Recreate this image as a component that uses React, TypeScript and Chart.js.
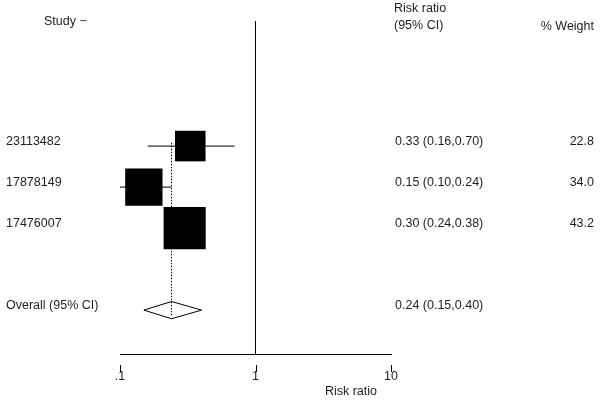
import React, { useEffect, useRef } from 'react';
import { Chart, registerables } from 'chart.js';
Chart.register(...registerables);

// ---- data ----
const studies = ['23113482', '17878149', '17476007'];
const rr = [0.33, 0.15, 0.30];
const ciLow = [0.16, 0.10, 0.24];
const ciHigh = [0.70, 0.24, 0.38];
const weights = [22.8, 34.0, 43.2];
const ciLabels = ['0.33 (0.16,0.70)', '0.15 (0.10,0.24)', '0.30 (0.24,0.38)'];
const weightLabels = ['22.8', '34.0', '43.2'];
const overallName = 'Overall (95% CI)';
const overallEst = 0.24;
const overallLow = 0.15;
const overallHigh = 0.40;
const overallText = '0.24 (0.15,0.40)';
const xTicks = [0.1, 1, 10];
const xTickLabels = ['.1', '1', '10'];

// row positions (y units)
const studyRows = [0, 1, 2];
const overallRow = 4;
const Y_MIN = -3.05;
const Y_MAX = 5.07;

const FONT = "'Liberation Sans', Arial, sans-serif";
const TXT = '#1e1e1e';

export default function App() {
  const ref = useRef<HTMLCanvasElement | null>(null);

  useEffect(() => {
    document.body.style.margin = '0';
    const canvas = ref.current!;
    const boxSide = weights.map((w) => 6.4 * Math.sqrt(w));

    const textPlugin = {
      id: 'forestText',
      afterDraw(chart: any) {
        const { ctx, scales } = chart;
        const y = scales.y;
        const x = scales.x;
        ctx.save();
        ctx.fillStyle = TXT;
        ctx.font = `12.5px ${FONT}`;
        ctx.textBaseline = 'middle';
        // headers
        ctx.textAlign = 'left';
        ctx.fillText('Study \u2212', 44, 22);
        ctx.fillText('Risk ratio', 394, 9);
        ctx.fillText('(95% CI)', 394, 26);
        ctx.textAlign = 'right';
        ctx.fillText('% Weight', 594, 27);
        // rows
        studies.forEach((s, i) => {
          const py = y.getPixelForValue(studyRows[i]) - 4.5;
          ctx.textAlign = 'left';
          ctx.fillText(s, 6, py);
          ctx.fillText(ciLabels[i], 395, py);
          ctx.textAlign = 'right';
          ctx.fillText(weightLabels[i], 594, py);
        });
        const oy = y.getPixelForValue(overallRow) - 4.5;
        ctx.textAlign = 'left';
        ctx.fillText(overallName, 6, oy);
        ctx.fillText(overallText, 395, oy);
        // axis tick marks (below axis line)
        const base = chart.chartArea.bottom;
        ctx.strokeStyle = '#000';
        ctx.lineWidth = 1;
        xTicks.forEach((t) => {
          const px = Math.round(x.getPixelForValue(t)) + 0.5;
          ctx.beginPath();
          ctx.moveTo(px, base + 11);
          ctx.lineTo(px, base + 18);
          ctx.stroke();
        });
        // axis title
        ctx.textAlign = 'right';
        ctx.fillText('Risk ratio', chart.chartArea.right - 14, 392);
        ctx.restore();
      },
    };

    const datasets: any[] = [];
    // null line at 1
    datasets.push({
      data: [{ x: 1, y: Y_MIN }, { x: 1, y: Y_MAX }],
      showLine: true, borderColor: '#000', borderWidth: 1, pointRadius: 0, clip: false,
    });
    // CI lines
    studies.forEach((_, i) => {
      datasets.push({
        data: [{ x: ciLow[i], y: studyRows[i] }, { x: ciHigh[i], y: studyRows[i] }],
        showLine: true, borderColor: '#000', borderWidth: 1, pointRadius: 0, clip: false,
      });
    });
    // dotted overall line
    datasets.push({
      data: [{ x: overallEst, y: studyRows[0] - 0.08 }, { x: overallEst, y: overallRow + 0.15 }],
      showLine: true, borderColor: '#000', borderWidth: 1, borderDash: [1.5, 1.5], pointRadius: 0, clip: false,
    });
    // boxes
    datasets.push({
      data: studies.map((_, i) => ({ x: rr[i], y: studyRows[i] })),
      showLine: false, pointStyle: 'rect',
      pointRadius: boxSide.map((s) => s / (2 * Math.SQRT1_2)),
      backgroundColor: '#000', borderColor: '#000', borderWidth: 0, clip: false,
    });
    // diamond
    const dh = 0.21;
    datasets.push({
      data: [
        { x: overallLow, y: overallRow },
        { x: overallEst, y: overallRow - dh },
        { x: overallHigh, y: overallRow },
        { x: overallEst, y: overallRow + dh },
        { x: overallLow, y: overallRow },
      ],
      showLine: true, borderColor: '#000', borderWidth: 1, pointRadius: 0, tension: 0, clip: false,
    });

    const chart = new Chart(canvas, {
      type: 'scatter',
      data: { datasets },
      options: {
        animation: false,
        responsive: false,
        events: [],
        layout: { autoPadding: false, padding: { left: 120, right: 209, top: 21, bottom: 3 } },
        plugins: { legend: { display: false }, tooltip: { enabled: false } },
        scales: {
          x: {
            type: 'logarithmic',
            min: 0.1,
            max: 10,
            afterBuildTicks: (scale: any) => {
              scale.ticks = xTicks.map((v) => ({ value: v }));
            },
            ticks: {
              autoSkip: false,
              maxRotation: 0,
              padding: 15.5,
              color: TXT,
              font: { family: FONT, size: 12.5 },
              callback: (_v: any, i: number) => xTickLabels[i],
            },
            grid: { display: false, drawTicks: false },
            border: { display: true, color: '#000', width: 1 },
          },
          y: {
            type: 'linear',
            display: false,
            min: Y_MIN,
            max: Y_MAX,
            reverse: true,
          },
        },
      },
      plugins: [textPlugin],
    });
    return () => chart.destroy();
  }, []);

  return (
    <div style={{ width: 600, height: 403, background: '#fff' }}>
      <canvas ref={ref} width={600} height={403} />
    </div>
  );
}
